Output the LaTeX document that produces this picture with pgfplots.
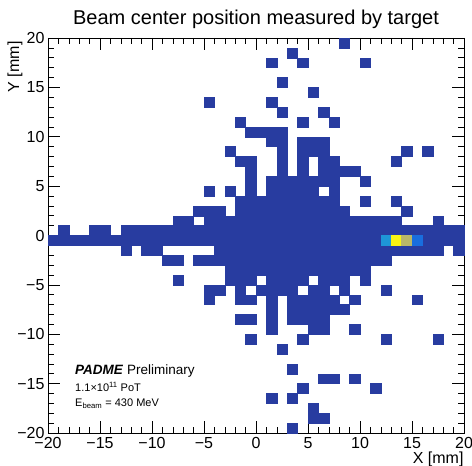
\documentclass[border=0pt]{standalone}
\usepackage{fontspec}
\setmainfont{Liberation Sans}
\usepackage{pgfplots}
\pgfplotsset{compat=1.18}
\definecolor{binblue}{RGB}{40,60,160}
\definecolor{cA}{RGB}{30,150,215}
\definecolor{cB}{RGB}{248,244,20}
\definecolor{cC}{RGB}{185,183,105}
\definecolor{cD}{RGB}{25,110,222}
\begin{document}
\begin{tikzpicture}
\begin{axis}[name=ax, scale only axis, width=416pt, height=395pt,
  xmin=-20, xmax=20, ymin=-20, ymax=20, axis on top,
  tick align=inside, xtick pos=both, ytick pos=both,
  xtick={-20,-15,...,20}, ytick={-20,-15,...,20},
  xticklabels={−20,−15,−10,−5,0,5,10,15,20},
  yticklabels={−20,−15,−10,−5,0,5,10,15,20},
  minor x tick num=4, minor y tick num=4,
  major tick length=12pt, minor tick length=6pt,
  every tick/.style={black, line width=0.5pt},
  axis line style={line width=0.6pt},
  ticklabel style={font=\fontsize{16}{19}\selectfont},
  xticklabel style={yshift=-1pt},
  title={Beam center position measured by target},
  title style={at={(rel axis cs:0.5,1)}, anchor=base, yshift=7.5pt, font=\fontsize{20}{24}\selectfont},
  xlabel={X [mm]}, xlabel style={at={(rel axis cs:1,0)}, anchor=north east, yshift=-15pt, xshift=3pt, font=\fontsize{16}{19}\selectfont},
  ylabel={Y [mm]}, ylabel style={at={(rel axis cs:0,1)}, anchor=south east, yshift=22pt, font=\fontsize{16}{19}\selectfont},
]
\addplot[only marks, mark=square*, mark size=5.2pt,
  mark options={fill=binblue, draw=binblue, line width=0.25pt, yscale=0.9495}]
  table[row sep=\\] {x y\\
8.5 19.5\\ 3.5 18.5\\ 1.5 17.5\\ 4.5 17.5\\ 10.5 17.5\\ 2.5 15.5\\ 5.5 14.5\\
-4.5 13.5\\ 1.5 13.5\\ 2.5 12.5\\ 6.5 12.5\\ -1.5 11.5\\ 4.5 11.5\\ 7.5 11.5\\
-0.5 10.5\\ 0.5 10.5\\ 1.5 10.5\\ 2.5 10.5\\
1.5 9.5\\ 2.5 9.5\\ 4.5 9.5\\ 5.5 9.5\\ 6.5 9.5\\
-2.5 8.5\\ 2.5 8.5\\ 4.5 8.5\\ 5.5 8.5\\ 6.5 8.5\\ 14.5 8.5\\ 16.5 8.5\\
-1.5 7.5\\ -0.5 7.5\\ 2.5 7.5\\ 4.5 7.5\\ 6.5 7.5\\ 7.5 7.5\\ 13.5 7.5\\
-0.5 6.5\\ 2.5 6.5\\ 4.5 6.5\\ 6.5 6.5\\ 7.5 6.5\\ 8.5 6.5\\ 9.5 6.5\\
-0.5 5.5\\ 1.5 5.5\\ 2.5 5.5\\ 3.5 5.5\\ 4.5 5.5\\ 5.5 5.5\\ 6.5 5.5\\ 7.5 5.5\\ 10.5 5.5\\
-4.5 4.5\\ -2.5 4.5\\ -0.5 4.5\\ 1.5 4.5\\ 2.5 4.5\\ 3.5 4.5\\ 4.5 4.5\\ 5.5 4.5\\ 7.5 4.5\\
-1.5 3.5\\ -0.5 3.5\\ 0.5 3.5\\ 1.5 3.5\\ 2.5 3.5\\ 3.5 3.5\\ 4.5 3.5\\ 5.5 3.5\\ 6.5 3.5\\ 7.5 3.5\\ 10.5 3.5\\ 13.5 3.5\\
-5.5 2.5\\ -4.5 2.5\\ -3.5 2.5\\ -1.5 2.5\\ -0.5 2.5\\ 0.5 2.5\\ 1.5 2.5\\ 2.5 2.5\\ 3.5 2.5\\ 4.5 2.5\\ 5.5 2.5\\ 6.5 2.5\\ 7.5 2.5\\ 8.5 2.5\\ 14.5 2.5\\
-7.5 1.5\\ -6.5 1.5\\ -4.5 1.5\\ -3.5 1.5\\ -2.5 1.5\\ -1.5 1.5\\ -0.5 1.5\\ 0.5 1.5\\ 1.5 1.5\\ 2.5 1.5\\ 3.5 1.5\\ 4.5 1.5\\ 5.5 1.5\\ 6.5 1.5\\ 7.5 1.5\\ 8.5 1.5\\ 9.5 1.5\\ 10.5 1.5\\ 11.5 1.5\\ 12.5 1.5\\ 13.5 1.5\\ 17.5 1.5\\
-18.5 0.5\\ -15.5 0.5\\ -14.5 0.5\\ -12.5 0.5\\ -11.5 0.5\\ -10.5 0.5\\ -9.5 0.5\\ -8.5 0.5\\ -7.5 0.5\\ -6.5 0.5\\ -5.5 0.5\\ -4.5 0.5\\ -3.5 0.5\\ -2.5 0.5\\ -1.5 0.5\\ -0.5 0.5\\ 0.5 0.5\\ 1.5 0.5\\ 2.5 0.5\\ 3.5 0.5\\ 4.5 0.5\\ 5.5 0.5\\ 6.5 0.5\\ 7.5 0.5\\ 8.5 0.5\\ 9.5 0.5\\ 10.5 0.5\\ 11.5 0.5\\ 12.5 0.5\\ 13.5 0.5\\ 14.5 0.5\\ 15.5 0.5\\ 16.5 0.5\\ 17.5 0.5\\ 18.5 0.5\\ 19.5 0.5\\
-19.5 -0.5\\ -18.5 -0.5\\ -17.5 -0.5\\ -16.5 -0.5\\ -15.5 -0.5\\ -14.5 -0.5\\ -13.5 -0.5\\ -12.5 -0.5\\ -11.5 -0.5\\ -10.5 -0.5\\ -9.5 -0.5\\ -8.5 -0.5\\ -7.5 -0.5\\ -6.5 -0.5\\ -5.5 -0.5\\ -4.5 -0.5\\ -3.5 -0.5\\ -2.5 -0.5\\ -1.5 -0.5\\ -0.5 -0.5\\ 0.5 -0.5\\ 1.5 -0.5\\ 2.5 -0.5\\ 3.5 -0.5\\ 4.5 -0.5\\ 5.5 -0.5\\ 6.5 -0.5\\ 7.5 -0.5\\ 8.5 -0.5\\ 9.5 -0.5\\ 10.5 -0.5\\ 11.5 -0.5\\ 16.5 -0.5\\ 17.5 -0.5\\ 18.5 -0.5\\ 19.5 -0.5\\
-12.5 -1.5\\ -10.5 -1.5\\ -9.5 -1.5\\ -3.5 -1.5\\ -2.5 -1.5\\ -1.5 -1.5\\ -0.5 -1.5\\ 0.5 -1.5\\ 1.5 -1.5\\ 2.5 -1.5\\ 3.5 -1.5\\ 4.5 -1.5\\ 5.5 -1.5\\ 6.5 -1.5\\ 7.5 -1.5\\ 8.5 -1.5\\ 9.5 -1.5\\ 10.5 -1.5\\ 11.5 -1.5\\ 12.5 -1.5\\ 13.5 -1.5\\ 14.5 -1.5\\ 15.5 -1.5\\ 16.5 -1.5\\ 17.5 -1.5\\ 19.5 -1.5\\
-8.5 -2.5\\ -7.5 -2.5\\ -5.5 -2.5\\ -4.5 -2.5\\ -3.5 -2.5\\ -2.5 -2.5\\ -1.5 -2.5\\ -0.5 -2.5\\ 0.5 -2.5\\ 1.5 -2.5\\ 2.5 -2.5\\ 3.5 -2.5\\ 4.5 -2.5\\ 5.5 -2.5\\ 6.5 -2.5\\ 7.5 -2.5\\ 8.5 -2.5\\ 9.5 -2.5\\ 10.5 -2.5\\ 11.5 -2.5\\ 12.5 -2.5\\
-2.5 -3.5\\ -1.5 -3.5\\ -0.5 -3.5\\ 0.5 -3.5\\ 1.5 -3.5\\ 2.5 -3.5\\ 3.5 -3.5\\ 4.5 -3.5\\ 5.5 -3.5\\ 6.5 -3.5\\ 7.5 -3.5\\ 8.5 -3.5\\ 9.5 -3.5\\ 10.5 -3.5\\
-7.5 -4.5\\ -2.5 -4.5\\ -1.5 -4.5\\ -0.5 -4.5\\ 1.5 -4.5\\ 2.5 -4.5\\ 3.5 -4.5\\ 4.5 -4.5\\ 6.5 -4.5\\ 7.5 -4.5\\ 8.5 -4.5\\ 10.5 -4.5\\
-4.5 -5.5\\ -3.5 -5.5\\ -1.5 -5.5\\ 0.5 -5.5\\ 1.5 -5.5\\ 2.5 -5.5\\ 3.5 -5.5\\ 5.5 -5.5\\ 6.5 -5.5\\ 8.5 -5.5\\ 12.5 -5.5\\
-4.5 -6.5\\ -1.5 -6.5\\ -0.5 -6.5\\ 1.5 -6.5\\ 3.5 -6.5\\ 4.5 -6.5\\ 5.5 -6.5\\ 6.5 -6.5\\ 7.5 -6.5\\ 9.5 -6.5\\ 15.5 -6.5\\
1.5 -7.5\\ 3.5 -7.5\\ 4.5 -7.5\\ 5.5 -7.5\\ 6.5 -7.5\\ 7.5 -7.5\\ 8.5 -7.5\\
-1.5 -8.5\\ -0.5 -8.5\\ 1.5 -8.5\\ 3.5 -8.5\\ 4.5 -8.5\\ 5.5 -8.5\\ 6.5 -8.5\\
1.5 -9.5\\ 5.5 -9.5\\ 6.5 -9.5\\ 9.5 -9.5\\
-0.5 -10.5\\ 4.5 -10.5\\ 12.5 -10.5\\ 17.5 -10.5\\
2.5 -11.5\\ 3.5 -13.5\\ 6.5 -14.5\\ 7.5 -14.5\\ 9.5 -14.5\\ 4.5 -15.5\\ 11.5 -15.5\\
1.5 -16.5\\ 3.5 -16.5\\ 5.5 -17.5\\ 5.5 -18.5\\ 6.5 -18.5\\ 3.5 -19.5\\
};
\addplot[only marks, mark=square*, mark size=5.2pt, mark options={fill=cA, draw=cA, line width=0.25pt, yscale=0.9495}] coordinates {(12.5,-0.5)};
\addplot[only marks, mark=square*, mark size=5.2pt, mark options={fill=cB, draw=cB, line width=0.25pt, yscale=0.9495}] coordinates {(13.5,-0.5)};
\addplot[only marks, mark=square*, mark size=5.2pt, mark options={fill=cC, draw=cC, line width=0.25pt, yscale=0.9495}] coordinates {(14.5,-0.5)};
\addplot[only marks, mark=square*, mark size=5.2pt, mark options={fill=cD, draw=cD, line width=0.25pt, yscale=0.9495}] coordinates {(15.5,-0.5)};
\node[anchor=base west, inner sep=0pt, font=\fontsize{13.5}{16}\selectfont] at (axis cs:-17.4,-14.1) {\textbf{\textit{PADME}} Preliminary};
\node[anchor=base west, inner sep=0pt, font=\fontsize{11}{13}\selectfont] at (axis cs:-17.4,-15.75) {1.1×10\textsuperscript{11} PoT};
\node[anchor=base west, inner sep=0pt, font=\fontsize{11}{13}\selectfont] at (axis cs:-17.4,-17.35) {E\textsubscript{beam} = 430 MeV};
\end{axis}
\pgfresetboundingbox
\path ([xshift=-48pt,yshift=-33pt]ax.south west) rectangle ([xshift=8pt,yshift=38pt]ax.north east);
\end{tikzpicture}
\end{document}
